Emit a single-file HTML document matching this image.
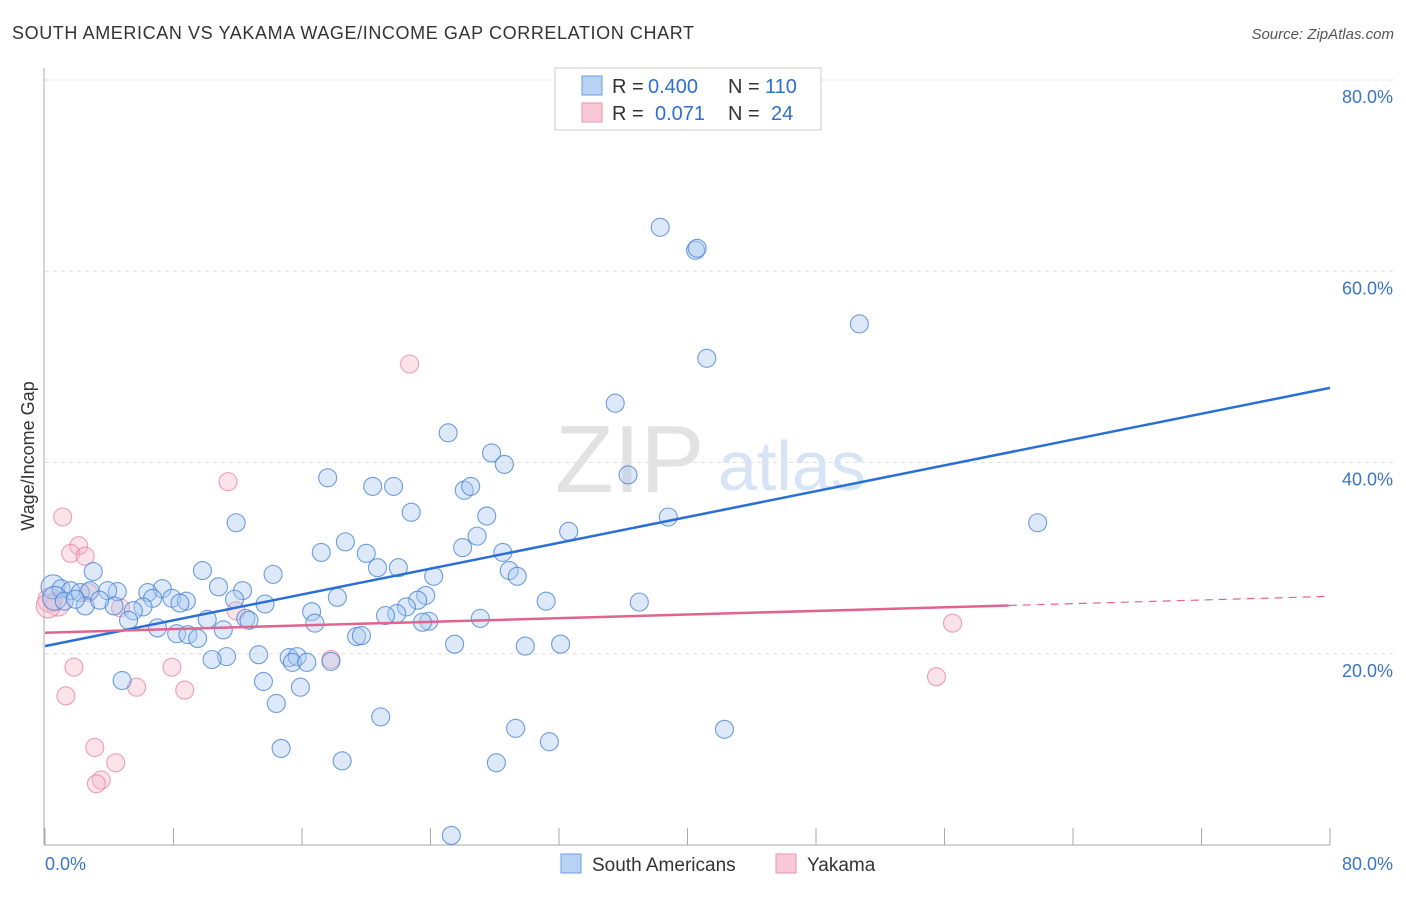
<!DOCTYPE html>
<html><head><meta charset="utf-8"><style>
body{margin:0;background:#fff;font-family:"Liberation Sans",sans-serif}
svg text{font-family:"Liberation Sans",sans-serif}
</style></head><body>
<svg id="chart" width="1406" height="892" xmlns="http://www.w3.org/2000/svg">
<text x="12" y="39" font-size="18" fill="#333" letter-spacing="0.6">SOUTH AMERICAN VS YAKAMA WAGE/INCOME GAP CORRELATION CHART</text>
<text x="1394" y="39" font-size="15" fill="#555" text-anchor="end" font-style="italic">Source: ZipAtlas.com</text>
<g id="grid"></g>
<text x="555" y="492" font-size="96" fill="#e2e2e2" font-family="Liberation Serif">ZIP</text>
<text x="718" y="490" font-size="70" fill="#d6e4f5">atlas</text>
<g id="marks"></g>
<text transform="translate(34,456) rotate(-90)" font-size="18" fill="#333" text-anchor="middle">Wage/Income Gap</text>
<text x="45" y="870" font-size="18" fill="#3a75c4">0.0%</text>
<text x="1393" y="870" font-size="18" fill="#3a75c4" text-anchor="end">80.0%</text>
<g>
<rect x="555" y="68" width="266" height="62" fill="#fff" stroke="#ccc"/>
<rect x="582" y="76" width="20" height="19" fill="#b8d2f3" stroke="#6a9de0"/>
<rect x="582" y="103" width="20" height="19" fill="#f8c8d6" stroke="#e895ae"/>
<text x="612" y="93" font-size="20" fill="#333">R =</text>
<text x="648" y="93" font-size="20" fill="#2f6fd0">0.400</text>
<text x="728" y="93" font-size="20" fill="#333">N =</text>
<text x="765" y="93" font-size="20" fill="#2f6fd0">110</text>
<text x="612" y="120" font-size="20" fill="#333">R =</text>
<text x="655" y="120" font-size="20" fill="#2f6fd0">0.071</text>
<text x="728" y="120" font-size="20" fill="#333">N =</text>
<text x="771" y="120" font-size="20" fill="#2f6fd0">24</text>
</g>
<g><rect x="561" y="854" width="20" height="19" fill="#b8d2f3" stroke="#6a9de0"/><text x="592" y="871" font-size="19" fill="#333">South Americans</text></g>
<g><rect x="776" y="854" width="20" height="19" fill="#f8c8d6" stroke="#e895ae"/><text x="807" y="871" font-size="19" fill="#333">Yakama</text></g>
</svg>
<script>
const blueX=[38.3,40.5,40.6,50.7,41.2,35.5,25.1,27.8,28.6,36.3,17.6,20.4,21.7,26.1,26.5,22.8,27.5,11.9,38.8,61.8,32.6,18.7,26.9,26.0,17.2,20.0,28.5,20.7,22.0,3.0,9.8,14.2,28.9,29.4,24.2,10.8,7.3,12.3,6.4,4.5,3.9,7.9,6.7,8.8,11.8,18.2,23.7,23.2,31.2,37.0,13.7,8.4,4.3,6.1,5.5,16.6,22.5,21.9,21.2,12.5,12.7,10.1,5.2,27.1,16.8,23.9,23.5,7.0,11.1,8.2,8.9,9.5,19.4,19.7,25.5,29.9,32.1,13.3,11.3,10.4,15.2,15.7,15.4,16.3,17.8,4.8,13.6,15.9,14.4,20.9,29.3,42.3,31.4,14.7,18.5,28.1,25.3,0.5,1.0,1.6,2.2,2.8,0.6,1.2,2.5,3.4,1.9];
const blueY=[64.6,62.2,62.4,54.5,50.9,46.2,43.1,41.0,39.8,38.7,38.4,37.5,37.5,37.1,37.5,34.8,34.4,33.7,34.3,33.7,32.8,31.7,32.3,31.1,30.6,30.5,30.6,29.0,29.0,28.6,28.7,28.3,28.7,28.1,28.1,27.0,26.8,26.6,26.4,26.5,26.6,25.8,25.8,25.5,25.7,25.9,26.1,25.6,25.5,25.4,25.2,25.3,25.0,24.9,24.5,24.4,24.9,24.2,24.0,23.7,23.5,23.6,23.5,23.7,23.2,23.4,23.3,22.7,22.5,22.1,22.0,21.6,21.8,21.9,21.0,20.8,21.0,19.9,19.7,19.4,19.6,19.7,19.1,19.1,19.2,17.2,17.1,16.5,14.8,13.4,12.2,12.1,10.8,10.1,8.8,8.6,1.0,27.0,26.8,26.6,26.4,26.6,25.8,25.5,25.0,25.6,25.7];
const pinkX=[22.7,11.4,1.1,2.1,1.6,2.5,0.3,0.8,2.7,4.7,11.9,56.5,1.8,7.9,17.8,1.3,5.7,8.7,55.5,3.1,4.4,3.5,3.2,0.2];
const pinkY=[50.3,38.0,34.3,31.3,30.5,30.2,25.6,25.2,26.4,24.8,24.5,23.2,18.6,18.6,19.4,15.6,16.5,16.2,17.6,10.2,8.6,6.8,6.4,25.0];
const blueFit=[20.8,47.8];
const pinkFit=[22.2,26.0];
const pinkSolidEnd=60;
const yTicks=[20,40,60,80];
const NS='http://www.w3.org/2000/svg';
const X=v=>45+v*(1285/80), Y=v=>845-v*(765/80);
function mk(t,a,p){const e=document.createElementNS(NS,t);for(const k in a)e.setAttribute(k,a[k]);p.appendChild(e);return e;}
const grid=document.getElementById('grid'), marks=document.getElementById('marks');
yTicks.forEach(t=>{
 const l=mk('line',{x1:45,x2:1393,y1:Y(t),y2:Y(t),stroke:'#ddd','stroke-dasharray':'4,4'},grid);
 
 
 const tx=mk('text',{x:1393,y:Y(t)+23,'font-size':18,fill:'#3a75c4','text-anchor':'end'},grid);
 tx.textContent=t.toFixed(1)+'%';
 
 
});
mk('line',{x1:44,x2:44,y1:68,y2:845,stroke:'#aaa'},grid);
mk('line',{x1:44,x2:1330,y1:845,y2:845,stroke:'#aaa'},grid);
for(let i=0;i<=10;i++){const t=mk('line',{x1:X(i*8),x2:X(i*8),y1:828,y2:845,stroke:'#aaa'},grid);
 
 }
function pts(xs,ys,f,s,name){xs.forEach((x,i)=>{const c=mk('circle',{cx:X(x),cy:Y(ys[i]),r:x<1?12:9,fill:f,'fill-opacity':0.4,stroke:s,'stroke-opacity':0.75,'stroke-width':1.1},marks);
 
 });}
pts(pinkX,pinkY,'#f6b8cb','#e8809f','yakama-point');
pts(blueX,blueY,'#a9c8f0','#3f7fd6','south-american-point');
const bl=mk('line',{x1:X(0),y1:Y(blueFit[0]),x2:X(80),y2:Y(blueFit[1]),stroke:'#2a6fd6','stroke-width':2.5},marks);


const pe=pinkFit[0]+(pinkFit[1]-pinkFit[0])*pinkSolidEnd/80;
const pl=mk('line',{x1:X(0),y1:Y(pinkFit[0]),x2:X(pinkSolidEnd),y2:Y(pe),stroke:'#e0648e','stroke-width':2.5},marks);


const pd=mk('line',{x1:X(pinkSolidEnd),y1:Y(pe),x2:X(80),y2:Y(pinkFit[1]),stroke:'#e0648e','stroke-width':1.2,'stroke-dasharray':'8,6'},marks);


</script>
</body></html>
